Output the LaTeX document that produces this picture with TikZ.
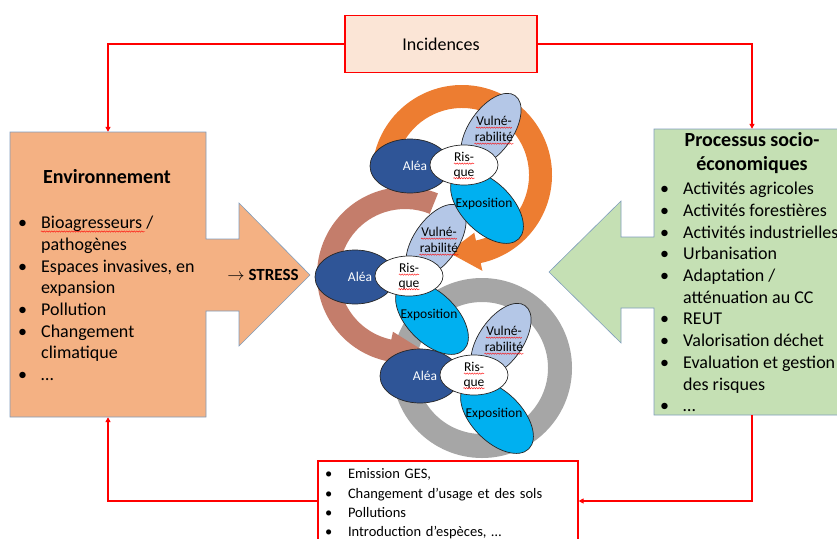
\documentclass[tikz,border=0pt]{standalone}
\usepackage{fontspec}
\setmainfont{Carlito}
\usepackage{xcolor}
\usepackage{tikz}
\usetikzlibrary{
  arrows.meta,
  positioning,
  calc,
  shapes.geometric,
  decorations.pathmorphing}

\definecolor{envorange}{HTML}{F4B183}
\definecolor{procgreen}{HTML}{C5E0B4}
\definecolor{incpeach}{HTML}{FBE5D6}
\definecolor{ringorange}{HTML}{ED7D31}
\definecolor{ringbrown}{HTML}{C47D6B}
\definecolor{ringgray}{HTML}{A6A6A6}
\definecolor{aleablue}{HTML}{2F5597}
\definecolor{vulblue}{HTML}{B4C7E7}
\definecolor{expoblue}{HTML}{00B0F0}
\definecolor{edgeblue}{HTML}{7F9DBD}

\tikzset{
  calloutedge/.style={draw=edgeblue, line width=0.6pt},
  frame/.style={inner sep=0pt, minimum width=196pt, minimum height=286pt},
  redline/.style={red, line width=1.2pt},
  redarrow/.style={redline, -{Triangle[length=5pt, width=5pt]}},
  redbox/.style={draw=red, line width=1.2pt, inner sep=0pt},
  titletext/.style={font=\fontsize{20}{24}\selectfont\bfseries, align=center, inner sep=0pt},
  listtext/.style={font=\fontsize{18}{21.7}\selectfont, align=left, inner sep=0pt},
  petal/.style={ellipse, draw=black!85, line width=0.7pt, inner sep=0pt},
  petaltext/.style={font=\fontsize{13.5}{16.5}\selectfont, inner sep=0pt},
  spellwave/.style={red, line width=0.4pt, decorate,
    decoration={snake, segment length=2.5pt, amplitude=0.7pt}}
}

\newcommand{\itm}[1][23pt]{\makebox[#1][l]{\textbullet}}
\newcommand{\cont}{\hspace*{23pt}}

% circular arrow: colour, centre, outer r, inner r, start, head base, tip
\newcommand{\ringarrow}[7]{%
  \fill[#1] ($(#2)+(#5:#3)$) arc[start angle=#5, end angle=#6, radius=#3]
    -- ($(#2)+(#6:{#3+8pt})$) -- ($(#2)+(#7:{(#3+#4)/2})$)
    -- ($(#2)+(#6:{#4-8pt})$) -- ($(#2)+(#6:#4)$)
    arc[start angle=#6, end angle=#5, radius=#4] -- cycle;
}

% one Alea / Vulnerabilite / Exposition / Risque flower
\newcommand{\petals}[3]{%
  \coordinate (#1) at (#2,#3);
  \node[petal, fill=vulblue, minimum width=84pt, minimum height=44pt, rotate=55] (#1v) at ($(#1)+(27,-35)$) {};
  \node[petal, fill=aleablue, minimum width=80pt, minimum height=54pt] (#1a) at ($(#1)+(-54,1)$) {};
  \node[petal, fill=expoblue, minimum width=90pt, minimum height=50pt, rotate=-45] (#1e) at ($(#1)+(23,42)$) {};
  \node[petal, fill=white, minimum width=68pt, minimum height=40pt] (#1r) at (#1) {};
  \node[petaltext, text=white] (#1at) at ($(#1)+(-49,1)$) {Aléa};
  \node[petaltext] (#1v1) at ($(#1)+(30,-44)$) {Vulné-};
  \node[petaltext] (#1v2) at ($(#1)+(30,-28)$) {rabilité};
  \node[petaltext] (#1et) at ($(#1)+(20,39)$) {Exposition};
  \node[petaltext] (#1r1) at ($(#1)+(0,-8)$) {Ris-};
  \node[petaltext] (#1r2) at ($(#1)+(0,9)$) {que};
  \foreach \w in {v1,v2,r1,r2}
    \draw[spellwave] ($(#1\w.base west)+(0,2)$) -- ($(#1\w.base east)+(0,2)$);
}

\begin{document}
\begin{tikzpicture}[x=1pt, y=-1pt]

\useasboundingbox (0,0) rectangle (837,538);
\clip (0,0) rectangle (837,538);

%left block
\filldraw[calloutedge, fill=envorange] (10,132) -- (206,132) -- (206,239) -- (239,239)
  -- (239,203) -- (310,275) -- (239,346) -- (239,311) -- (206,311) -- (206,417)
  -- (10,417) -- cycle;
\node[frame, minimum height=285pt] (env) at (108,274.5) {};
\node[titletext] (envtitle) at (107,177) {Environnement};
\node[listtext, anchor=north west] (envlist) at (18,216) {%
  \itm Bioagresseurs /\\
  \cont pathogènes\\
  \itm Espaces invasives, en\\
  \cont expansion\\
  \itm Pollution\\
  \itm Changement\\
  \cont climatique\\
  \itm …};
\draw[spellwave] ($(envlist.north west)+(23,15.5)$) -- ++(104,0);
\node[font=\fontsize{17}{20}\selectfont\bfseries, inner sep=0pt] (stress) at (263,275) {$\rightarrow$ STRESS};

%right block
\filldraw[calloutedge, fill=procgreen] (850,129) -- (654,129) -- (654,237) -- (621,237)
  -- (621,201) -- (549,272) -- (621,343) -- (621,308) -- (654,308) -- (654,415)
  -- (850,415) -- cycle;
\node[frame] (proc) at (752,272) {};
\node[titletext] (proctitle) at (752,153) {Processus socio-\\économiques};
\node[listtext, anchor=north west] (proclist) at (660,182) {%
  \itm Activités agricoles\\
  \itm Activités forestières\\
  \itm Activités industrielles\\
  \itm Urbanisation\\
  \itm Adaptation /\\
  \cont atténuation au CC\\
  \itm REUT\\
  \itm Valorisation déchet\\
  \itm Evaluation et gestion\\
  \cont des risques\\
  \itm …};

%red loop
\node[redbox, fill=incpeach, minimum width=192pt, minimum height=57pt,
  font=\fontsize{18}{21}\selectfont] (inc) at (441,44) {Incidences};
\node[redbox, fill=white, minimum width=260pt, minimum height=80pt] (emis) at (448,501) {};
\node[text width=246pt, inner xsep=7pt, inner ysep=0pt, align=left,
  font=\fontsize{14.5}{19.3}\selectfont] (emislist) at (448,504) {%
  \itm Emission GES,\\
  \itm Changement d’usage et des sols\\
  \itm Pollutions\\
  \itm Introduction d’espèces, …};

\draw[redarrow] (inc.west) -| (env.north);
\draw[redarrow] (inc.east) -| (proc.north);
\draw[redarrow] (proc.south) |- (emis.east);
\draw[redarrow] (emis.west) -| (env.south);

%rings
\coordinate (o1) at (462,175);
\coordinate (o2) at (405,275);
\coordinate (o3) at (482,368);
\fill[ringgray, even odd rule] (o3) circle[radius=90pt] (o3) circle[radius=66pt];
\ringarrow{ringbrown}{o2}{88pt}{66pt}{68}{258}{283}
\ringarrow{ringorange}{o1}{90pt}{67pt}{170}{-78}{-100}

%flowers
\petals{c3}{474}{375}
\petals{c2}{409}{276}
\petals{c1}{464}{165}

\end{tikzpicture}
\end{document}
